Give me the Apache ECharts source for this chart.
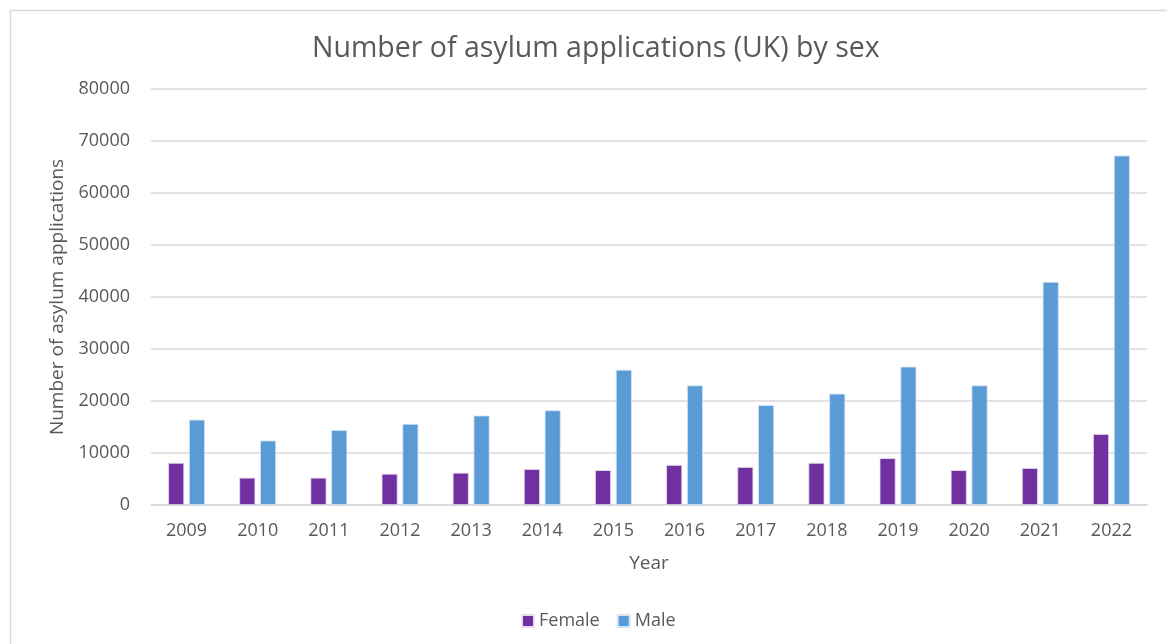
<!DOCTYPE html>
<html><head><meta charset="utf-8">
<script src="https://cdn.jsdelivr.net/npm/echarts@6/dist/echarts.min.js"></script>
<style>html,body{margin:0;padding:0;background:#fff}#c{width:1167px;height:644px}</style>
</head><body><div id="c"></div>
<script>
const years = ['2009','2010','2011','2012','2013','2014','2015','2016','2017','2018','2019','2020','2021','2022'];
const female = [8100, 5250, 5250, 6000, 6200, 6900, 6700, 7700, 7300, 8100, 9000, 6700, 7100, 13650];
const male = [16400, 12400, 14400, 15600, 17200, 18200, 26000, 23000, 19200, 21400, 26600, 23000, 42900, 67200];
const yTicks = [0, 10000, 20000, 30000, 40000, 50000, 60000, 70000, 80000];

const chart = echarts.init(document.getElementById('c'));
const txt = '#595959';
const font = 'Open Sans';
chart.setOption({
  animation: false,
  textStyle: {fontFamily: font},
  graphic: [{type:'rect', shape:{x:10.5,y:10.5,width:1170,height:660}, style:{fill:'none', stroke:'#d9d9d9', lineWidth:1.5}, silent:true}],
  title: {text: 'Number of asylum applications (UK) by sex', left: 307, top: 29,
    textStyle: {fontFamily: font, fontSize: 28.5, fontWeight: 'normal', color: txt}},
  legend: {bottom: 9, left: 516, itemWidth: 12, itemHeight: 12, itemGap: 17,
    icon: 'rect', textStyle: {fontFamily: font, fontSize: 18, color: txt},
    data: ['Female','Male']},
  grid: {left: 151, right: 20, top: 89, bottom: 139},
  xAxis: {type: 'category', data: years, name: 'Year', nameLocation: 'middle', nameGap: 49,
    nameTextStyle: {fontFamily: font, fontSize: 19, color: txt},
    axisLine: {lineStyle: {color: '#d9d9d9', width: 1.5}}, axisTick: {show: false},
    axisLabel: {fontFamily: font, fontSize: 18, color: txt, margin: 17}},
  yAxis: {type: 'value', min: yTicks[0], max: yTicks[yTicks.length-1], interval: 10000,
    name: 'Number of asylum applications', nameLocation: 'middle', nameGap: 84,
    nameTextStyle: {fontFamily: font, fontSize: 19, color: txt},
    axisLine: {show: false}, axisTick: {show: false},
    splitLine: {lineStyle: {color: '#d9d9d9', width: 1.5}},
    axisLabel: {fontFamily: font, fontSize: 18, color: txt, margin: 21, formatter: v => String(v)}},
  series: [
    {name: 'Female', type: 'bar', data: female, barWidth: 16, barGap: '30%',
      itemStyle: {color: '#7030A0', borderColor: '#e6dcef', borderWidth: 0.8}},
    {name: 'Male', type: 'bar', data: male, barWidth: 16,
      itemStyle: {color: '#5B9BD5', borderColor: '#d6e6f5', borderWidth: 0.8}}
  ]
});
</script></body></html>
